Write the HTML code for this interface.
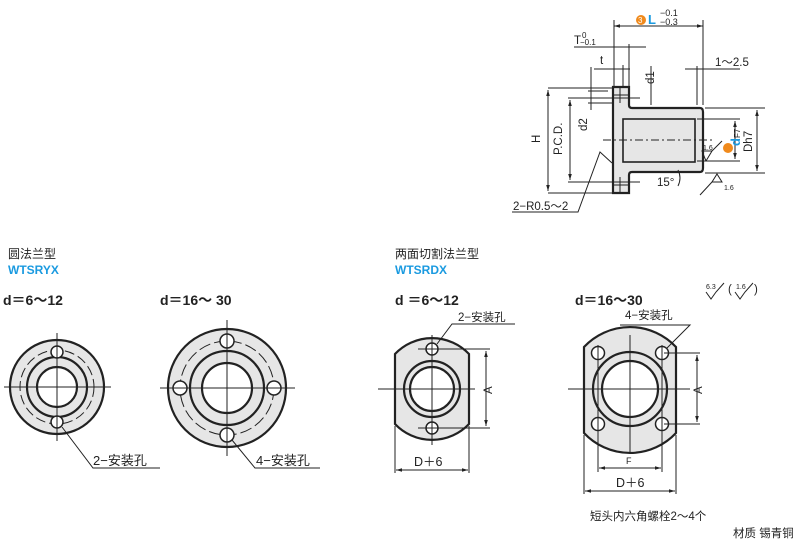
<!DOCTYPE html>
<html><head><meta charset="utf-8"><style>
body{margin:0;background:#fff}
svg{display:block}
text{font-family:"Liberation Sans","Noto Sans CJK SC",sans-serif;fill:#222}
</style></head><body>
<svg width="800" height="550" viewBox="0 0 800 550" xmlns="http://www.w3.org/2000/svg">
<defs>
<marker id="a" viewBox="0 0 10 10" refX="10" refY="5" markerWidth="6" markerHeight="6" orient="auto-start-reverse"><path d="M0,2 L10,5 L0,8z" fill="#222"/></marker>
</defs>
<g stroke="#222" fill="none" stroke-width="1">
<path d="M613,87 H629 V105 Q629,108 632,108 H700 Q703,108 703,112 V168 Q703,172 700,172 H632 Q629,172 629,175 V193 H613 Z" fill="#e6e6e6" stroke-width="2.2"/>
<rect x="623" y="119" width="72" height="43" fill="#e6e6e6" stroke-width="1.6"/>
<line x1="613" y1="95" x2="629" y2="95"/><line x1="613" y1="185" x2="629" y2="185"/>
<line x1="620" y1="87" x2="620" y2="103"/><line x1="620" y1="177" x2="620" y2="193"/>
<line x1="603" y1="140" x2="715" y2="140" stroke-dasharray="8,3,2,3"/>
<line x1="614" y1="20" x2="614" y2="86"/><line x1="703" y1="20" x2="703" y2="105"/>
<line x1="614" y1="26" x2="703" y2="26" marker-start="url(#a)" marker-end="url(#a)"/>
<line x1="574" y1="47" x2="646" y2="47"/><line x1="629" y1="44" x2="629" y2="86"/>
<line x1="594" y1="69" x2="630" y2="69"/><line x1="623" y1="65" x2="623" y2="86"/>
<line x1="685" y1="69" x2="740" y2="69"/><line x1="697" y1="66" x2="697" y2="105"/>
<line x1="548" y1="88" x2="612" y2="88"/><line x1="548" y1="193" x2="612" y2="193"/>
<line x1="548" y1="90" x2="548" y2="191" marker-start="url(#a)" marker-end="url(#a)"/>
<line x1="568" y1="98" x2="640" y2="98"/><line x1="568" y1="182" x2="640" y2="182"/>
<line x1="570" y1="100" x2="570" y2="180" marker-start="url(#a)" marker-end="url(#a)"/>
<line x1="591" y1="67" x2="591" y2="110"/><line x1="651" y1="66" x2="651" y2="105"/>
<line x1="588" y1="91" x2="608" y2="91"/><line x1="588" y1="103" x2="612" y2="103"/>
<line x1="705" y1="108" x2="765" y2="108"/><line x1="705" y1="173" x2="765" y2="173"/>
<line x1="757" y1="110" x2="757" y2="171" marker-start="url(#a)" marker-end="url(#a)"/>
<line x1="697" y1="119" x2="740" y2="119"/><line x1="697" y1="161" x2="740" y2="161"/>
<line x1="735" y1="121" x2="735" y2="159" marker-start="url(#a)" marker-end="url(#a)"/>
<path d="M706,161 L712,151 M706,161 L702,151 H712 L722,141" />
<path d="M717,174 L722,182 L712,182 Z M712,182 L700,195"/>
<path d="M678,170 Q682,178 678,186"/>
<path d="M612,163 L600,152 L578,212 H512"/>
<circle cx="57" cy="387" r="47" fill="#e6e6e6" stroke-width="2.2"/>
<circle cx="57" cy="387" r="30" fill="#e6e6e6" stroke-width="2.2"/>
<circle cx="57" cy="387" r="20" fill="#fff" stroke-width="2.2"/>
<circle cx="57" cy="387" r="37" stroke-dasharray="10,4"/>
<circle cx="57" cy="352" r="6" fill="#fff" stroke-width="1.5"/><circle cx="57" cy="422" r="6" fill="#fff" stroke-width="1.5"/>
<line x1="4" y1="387" x2="111" y2="387"/><line x1="57" y1="333" x2="57" y2="441"/>
<path d="M62,427 L93,468 H160"/>
<circle cx="227" cy="388" r="59" fill="#e6e6e6" stroke-width="2.2"/>
<circle cx="227" cy="388" r="37" fill="#e6e6e6" stroke-width="2.2"/>
<circle cx="227" cy="388" r="25" fill="#fff" stroke-width="2.2"/>
<circle cx="227" cy="388" r="47" stroke-dasharray="12,4"/>
<circle cx="227" cy="341" r="7" fill="#fff" stroke-width="1.5"/><circle cx="227" cy="435" r="7" fill="#fff" stroke-width="1.5"/>
<circle cx="180" cy="388" r="7" fill="#fff" stroke-width="1.5"/><circle cx="274" cy="388" r="7" fill="#fff" stroke-width="1.5"/>
<line x1="160" y1="388" x2="295" y2="388"/><line x1="227" y1="320" x2="227" y2="456"/>
<path d="M232,440 L255,468 H320"/>
<path d="M395,354 A51,51 0 0 1 469,354 V424 A51,51 0 0 1 395,424 Z" fill="#e6e6e6" stroke-width="2.2"/>
<circle cx="432" cy="389" r="28" fill="#e6e6e6" stroke-width="2.2"/>
<circle cx="432" cy="389" r="22" fill="#fff" stroke-width="2.2"/>
<circle cx="432" cy="349" r="6" fill="#fff" stroke-width="1.5"/><circle cx="432" cy="428" r="6" fill="#fff" stroke-width="1.5"/>
<line x1="378" y1="389" x2="475" y2="389"/><line x1="432" y1="335" x2="432" y2="445"/>
<line x1="418" y1="349" x2="490" y2="349"/><line x1="418" y1="428" x2="490" y2="428"/>
<line x1="486" y1="351" x2="486" y2="426" marker-start="url(#a)" marker-end="url(#a)"/>
<line x1="395" y1="426" x2="395" y2="473"/><line x1="469" y1="426" x2="469" y2="473"/>
<line x1="396" y1="470" x2="468" y2="470" marker-start="url(#a)" marker-end="url(#a)"/>
<path d="M437,344 L452,324 H515"/>
<path d="M584,347 A63,63 0 0 1 676,347 V433 A63,63 0 0 1 584,433 Z" fill="#e6e6e6" stroke-width="2.2"/>
<circle cx="630" cy="389" r="37" fill="#e6e6e6" stroke-width="2.2"/>
<circle cx="630" cy="389" r="28" fill="#fff" stroke-width="2.2"/>
<circle cx="598" cy="353" r="6.5" fill="#fff" stroke-width="1.5"/><circle cx="662" cy="353" r="6.5" fill="#fff" stroke-width="1.5"/>
<circle cx="598" cy="424" r="6.5" fill="#fff" stroke-width="1.5"/><circle cx="662" cy="424" r="6.5" fill="#fff" stroke-width="1.5"/>
<line x1="568" y1="389" x2="690" y2="389"/><line x1="630" y1="335" x2="630" y2="453"/>
<line x1="598" y1="345" x2="598" y2="472"/><line x1="662" y1="345" x2="662" y2="472"/>
<line x1="664" y1="353" x2="700" y2="353"/><line x1="664" y1="424" x2="700" y2="424"/>
<line x1="697" y1="355" x2="697" y2="422" marker-start="url(#a)" marker-end="url(#a)"/>
<line x1="599" y1="468" x2="661" y2="468" marker-start="url(#a)" marker-end="url(#a)"/>
<line x1="584" y1="435" x2="584" y2="494"/><line x1="676" y1="435" x2="676" y2="494"/>
<line x1="585" y1="491" x2="675" y2="491" marker-start="url(#a)" marker-end="url(#a)"/>
<path d="M667,348 L690,325 H620"/>
<path d="M706,292 L711,299 L716,292 L724,283 M735,292 L740,299 L745,292 L753,283"/>
</g>
<g font-size="11.5">
<text x="574" y="44">T</text><text x="582" y="38" font-size="8">0</text><text x="580" y="45" font-size="8">−0.1</text>
<text x="600" y="64">t</text>
<circle cx="641" cy="20" r="5" fill="#f08a1c"/><text x="638" y="23" font-size="8" style="fill:#fff">3</text>
<text x="648" y="24" font-size="13" font-weight="bold" style="fill:#1a9ae0">L</text><text x="660" y="16" font-size="9">−0.1</text><text x="660" y="25" font-size="9">−0.3</text>
<text x="715" y="66">1～2.5</text>
<text x="540" y="143" transform="rotate(-90 540 143)">H</text>
<text x="562" y="155" transform="rotate(-90 562 155)">P.C.D.</text>
<text x="587" y="131" transform="rotate(-90 587 131)">d2</text>
<text x="654" y="84" transform="rotate(-90 654 84)">d1</text>
<text x="752" y="152" transform="rotate(-90 752 152)">Dh7</text>
<circle cx="728" cy="148" r="5" fill="#f08a1c"/>
<text x="740" y="146" font-size="13" font-weight="bold" transform="rotate(-90 740 146)" style="fill:#1a9ae0">d<tspan font-size="8" font-weight="normal" style="fill:#222">F7</tspan></text>
<text x="703" y="150" font-size="7">1.6</text><text x="724" y="190" font-size="7">1.6</text>
<text x="657" y="186">15°</text>
<text x="513" y="210">2−R0.5〜2</text>
<text x="8" y="258" font-size="12">圆法兰型</text>
<text x="8" y="274" font-size="12" font-weight="bold" style="fill:#1a9ae0">WTSRYX</text>
<text x="3" y="305" font-size="14" font-weight="bold">d＝6〜12</text>
<text x="160" y="305" font-size="14" font-weight="bold">d＝16〜 30</text>
<text x="93" y="465" font-size="13">2−安装孔</text>
<text x="256" y="465" font-size="13">4−安装孔</text>
<text x="395" y="258" font-size="12">两面切割法兰型</text>
<text x="395" y="274" font-size="12" font-weight="bold" style="fill:#1a9ae0">WTSRDX</text>
<text x="395" y="305" font-size="14" font-weight="bold">d ＝6〜12</text>
<text x="575" y="305" font-size="14" font-weight="bold">d＝16〜30</text>
<text x="458" y="321">2−安装孔</text>
<text x="625" y="319">4−安装孔</text>
<text x="492" y="394" transform="rotate(-90 492 394)">A</text>
<text x="702" y="394" transform="rotate(-90 702 394)">A</text>
<text x="414" y="466" font-size="12.5">D＋6</text>
<text x="626" y="464" font-size="9">F</text>
<text x="616" y="487" font-size="12.5">D＋6</text>
<text x="706" y="289" font-size="7">6.3</text><text x="728" y="293">(</text><text x="736" y="289" font-size="7">1.6</text><text x="754" y="293">)</text>
<text x="590" y="520">短头内六角螺栓2〜4个</text>
<text x="733" y="537">材质  锡青铜</text>
</g>
</svg>
</body></html>
